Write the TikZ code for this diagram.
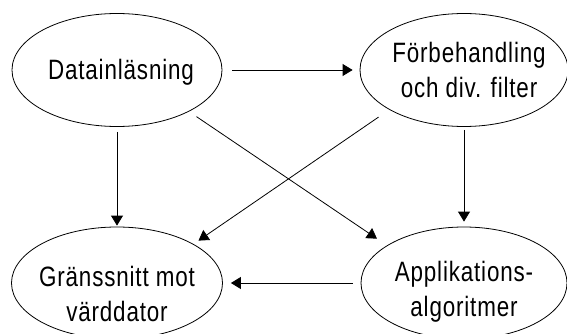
\documentclass[tikz,border=0pt]{standalone}
\usepackage{fontspec}
\setmainfont{Liberation Sans}[FakeStretch=0.8, LetterSpace=3]
\usetikzlibrary{shapes.geometric,arrows.meta}
\tikzset{
  ell/.style={draw, line width=0.8pt, shape=ellipse, inner sep=0pt, minimum width=210pt, minimum height=113pt},
  lbl/.style={align=center, inner sep=0pt, font=\fontsize{28}{35}\selectfont},
  conn/.style={line width=0.8pt, -{Triangle[length=10pt,width=12pt]}}
}
\begin{document}
\begin{tikzpicture}[x=1pt,y=-1pt]
\useasboundingbox (0,0) rectangle (567,334);
\node[ell, label={[lbl,yshift=-2pt,xshift=4pt]center:Datainläsning}] (d) at (117,70) {};
\node[ell, minimum width=208pt, label={[lbl,xshift=5pt]center:Förbehandling\\och div. filter}] (f) at (464,70) {};
\node[ell, minimum width=211pt, minimum height=112pt, label={[lbl,yshift=-11pt]center:Gränssnitt mot\\värddator}] (g) at (117,283) {};
\node[ell, minimum width=206pt, minimum height=112pt, label={[lbl,yshift=-9pt]center:Applikations-\\algoritmer}] (a) at (464,283) {};
\draw[conn, shorten <=10pt, shorten >=7pt] (d.east) -- (f.west);
\draw[conn, shorten <=5pt, shorten >=1pt] (d.south) -- (g.north);
\draw[conn, shorten <=3pt, shorten >=5pt] (f.south) -- (a.north);
\draw[conn, shorten <=8pt, shorten >=8pt] (a.west) -- (g.east);
\draw[conn, shorten <=9pt, shorten >=12pt] (d.-30) -- (a.154);
\draw[conn, shorten <=13pt, shorten >=6pt] (f.208) -- (g.27);
\end{tikzpicture}
\end{document}
